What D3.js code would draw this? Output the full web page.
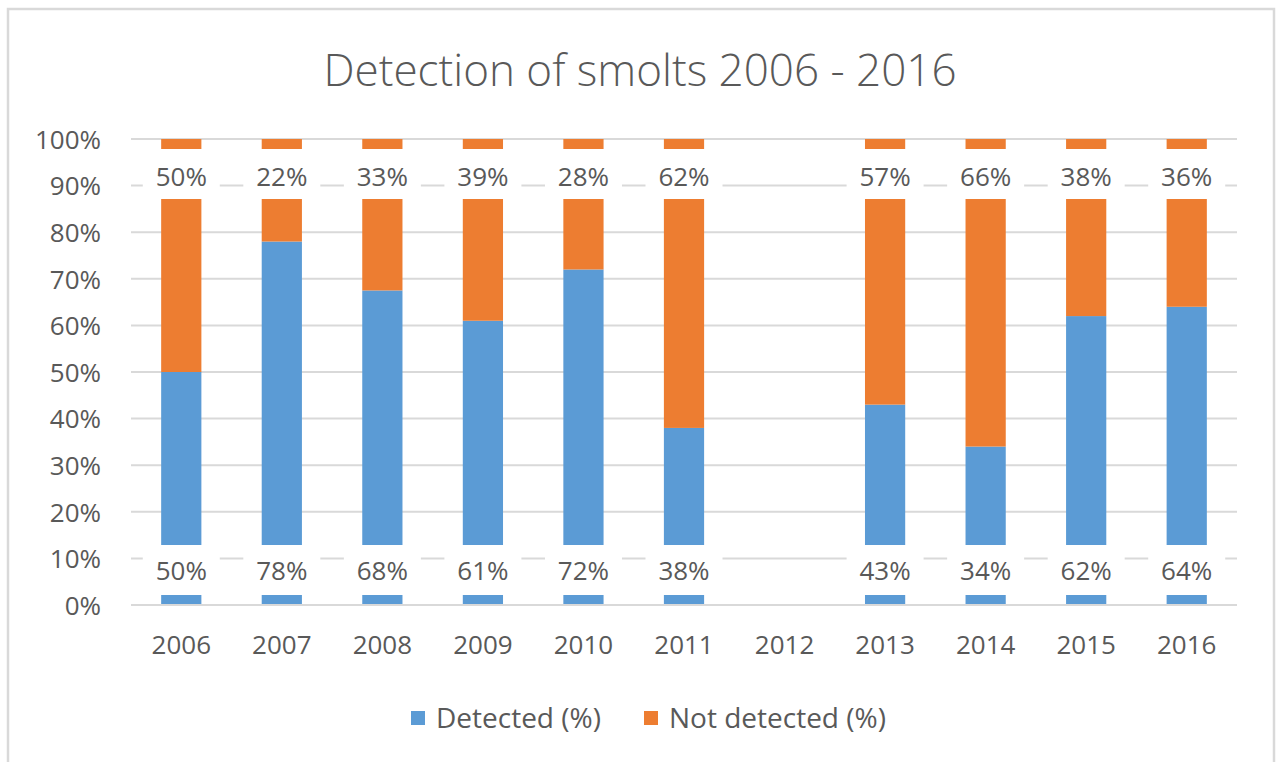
<!DOCTYPE html>
<html>
<head>
<meta charset="utf-8">
<script src="https://cdn.jsdelivr.net/npm/d3@7"></script>
<style>
  html, body { margin: 0; padding: 0; background: #fff; }
  svg { display: block; }
  text { font-family: "Open Sans", "Noto Sans", sans-serif; fill: #595959; }
</style>
</head>
<body>
<svg id="chart" width="1282" height="762"></svg>
<script>
// Survey years
const years = ["2006", "2007", "2008", "2009", "2010", "2011", "2012", "2013", "2014", "2015", "2016"];
// Share of smolts detected / not detected, in percent (no survey in 2012)
const detected    = [50, 78, 67.5, 61, 72, 38, null, 43, 34, 62, 64];
const notDetected = [50, 22, 32.5, 39, 28, 62, null, 57, 66, 38, 36];
// Series names and colours
const seriesNames  = ["Detected (%)", "Not detected (%)"];
const seriesColors = ["#5B9BD5", "#ED7D31"];
// Value axis ticks (fractions of 1)
const yTicks = [0, 0.1, 0.2, 0.3, 0.4, 0.5, 0.6, 0.7, 0.8, 0.9, 1.0];
const title = "Detection of smolts 2006 - 2016";

const svg = d3.select("#chart");
const plot = { left: 131, right: 1237, top: 139, bottom: 605 };

// Outer chart frame
svg.append("rect")
  .attr("x", 8).attr("y", 9)
  .attr("width", 1266).attr("height", 780)
  .attr("fill", "#fff")
  .attr("stroke", "#D9D9D9").attr("stroke-width", 2.5);

// Title
svg.append("text")
  .attr("x", 640).attr("y", 86)
  .attr("text-anchor", "middle")
  .style("font-size", "44px")
  .style("font-weight", 300)
  .text(title);

const x = d3.scaleBand()
  .domain(years)
  .range([plot.left, plot.right])
  .paddingInner(0.6)
  .paddingOuter(0.3);

const y = d3.scaleLinear()
  .domain([0, 1])
  .range([plot.bottom, plot.top]);

// Horizontal gridlines
svg.append("g")
  .selectAll("line")
  .data(yTicks.slice(1))
  .join("line")
  .attr("x1", plot.left).attr("x2", plot.right)
  .attr("y1", d => y(d)).attr("y2", d => y(d))
  .attr("stroke", "#D9D9D9").attr("stroke-width", 2);

// Y axis labels
const yAxis = d3.axisLeft(y)
  .tickValues(yTicks)
  .tickFormat(d3.format(".0%"))
  .tickSize(0)
  .tickPadding(0);
const gy = svg.append("g")
  .attr("transform", `translate(${plot.left - 30},0)`)
  .call(yAxis);
gy.select(".domain").remove();
gy.selectAll("text")
  .attr("dy", "0.36em")
  .style("font-size", "26px")
  .style("fill", "#595959");

// Stacked data
const rows = years.map((yr, i) => ({
  year: yr,
  det: detected[i] == null ? 0 : detected[i] / 100,
  nd: notDetected[i] == null ? 0 : notDetected[i] / 100,
  detLabel: detected[i],
  ndLabel: notDetected[i]
}));
const stacked = d3.stack().keys(["det", "nd"])(rows);

svg.append("g")
  .selectAll("g")
  .data(stacked)
  .join("g")
  .attr("fill", (d, i) => seriesColors[i])
  .selectAll("rect")
  .data(d => d)
  .join("rect")
  .attr("x", d => x(d.data.year))
  .attr("width", x.bandwidth())
  .attr("y", d => y(d[1]))
  .attr("height", d => y(d[0]) - y(d[1]));

// Category axis line and labels
svg.append("line")
  .attr("x1", plot.left).attr("x2", plot.right)
  .attr("y1", y(0)).attr("y2", y(0))
  .attr("stroke", "#D9D9D9").attr("stroke-width", 2);

const xAxis = d3.axisBottom(x).tickSize(0).tickPadding(0);
const gx = svg.append("g")
  .attr("transform", `translate(0,${plot.bottom + 40})`)
  .call(xAxis);
gx.select(".domain").remove();
gx.selectAll("text")
  .attr("dy", "0.36em")
  .style("font-size", "26px")
  .style("fill", "#595959");

// Data labels on white boxes: detected at the base, not detected at the top
const fmt = v => Math.round(v) + "%";
const boxW = 77, boxH = 50;
const labelDefs = [
  { key: "detLabel", cy: y(0) - 35, ty: 0.5 },
  { key: "ndLabel",  cy: y(1) + 35, ty: 2.5 }
];
labelDefs.forEach(def => {
  const g = svg.append("g")
    .selectAll("g")
    .data(rows.filter(r => r[def.key] != null))
    .join("g")
    .attr("transform", r => `translate(${x(r.year) + x.bandwidth() / 2},${def.cy})`);
  g.append("rect")
    .attr("x", -boxW / 2).attr("y", -boxH / 2)
    .attr("width", boxW).attr("height", boxH)
    .attr("fill", "#fff");
  g.append("text")
    .attr("text-anchor", "middle")
    .attr("y", def.ty)
    .attr("dy", "0.36em")
    .style("font-size", "26px")
    .text(r => fmt(r[def.key]));
});

// Legend
const legendItems = [
  { name: seriesNames[0], color: seriesColors[0], x: 411 },
  { name: seriesNames[1], color: seriesColors[1], x: 644 }
];
const lg = svg.append("g")
  .selectAll("g")
  .data(legendItems)
  .join("g")
  .attr("transform", d => `translate(${d.x},718)`);
lg.append("rect")
  .attr("x", 0).attr("y", -7)
  .attr("width", 14).attr("height", 14)
  .attr("fill", d => d.color);
lg.append("text")
  .attr("x", 25)
  .attr("dy", "0.36em")
  .style("font-size", "28px")
  .text(d => d.name);
</script>
</body>
</html>
